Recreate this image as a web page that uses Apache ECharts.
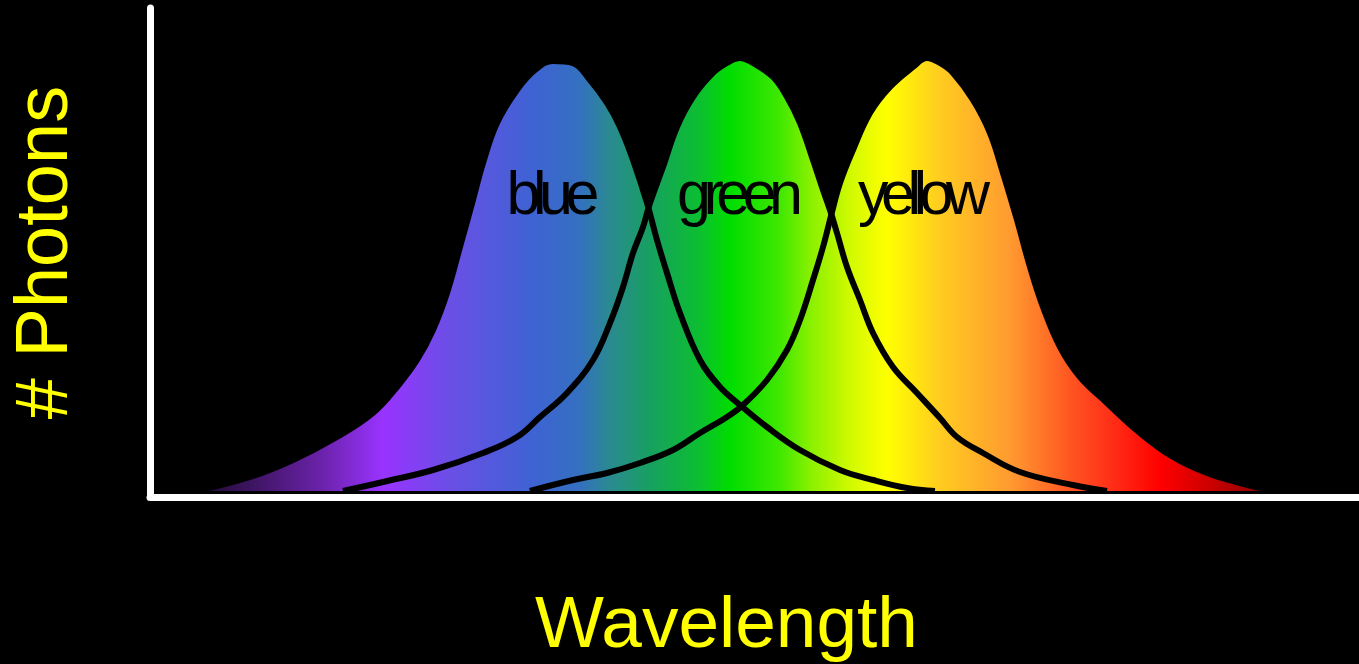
<!DOCTYPE html>
<html>
<head>
<meta charset="utf-8">
<title>Photons vs Wavelength</title>
<script src="https://cdn.jsdelivr.net/npm/echarts@6/dist/echarts.min.js"></script>
<style>
  html, body { margin: 0; padding: 0; background: #000; }
  #chart { width: 1359px; height: 664px; }
</style>
</head>
<body>
<div id="chart"></div>
<script>
// curve samples (x = wavelength position, y = photon count)
const blueX = [200, 250, 293, 337, 373, 397, 417, 433, 447, 460, 473, 483, 497, 517, 535, 553,
  573, 590, 607, 620, 633, 647, 657, 667, 680, 700, 720, 740, 767, 800, 840, 873, 907, 935];
const blueY = [1, 14, 31, 54, 78, 104, 131, 161, 198, 244, 291, 328, 368, 401, 421, 430,
  428, 411, 388, 364, 331, 288, 251, 218, 178, 131, 104, 86, 64, 41, 21, 11, 3, 0];

const greenX = [343, 383, 433, 483, 517, 540, 567, 593, 610, 623, 633, 643, 650, 663, 677, 693, 713, 727, 740,
  753, 773, 787, 800, 813, 823, 830, 837, 847, 860, 873, 893, 917, 940, 957, 983, 1020, 1073, 1107];
const greenY = [0, 9, 21, 38, 54, 74, 98, 131, 168, 204, 238, 264, 288, 324, 364, 394, 418, 428, 433,
  428, 414, 394, 368, 331, 301, 281, 258, 224, 191, 158, 124, 98, 73, 54, 38, 19, 6, 0];

const yellowX = [530, 573, 607, 640, 673, 700, 727, 743, 767, 787, 800, 813, 823, 832, 840, 853, 870, 890, 913, 927,
  940, 953, 973, 990, 1003, 1017, 1030, 1043, 1060, 1080, 1107, 1140, 1173, 1207, 1240, 1273];
const yellowY = [0, 11, 18, 28, 41, 58, 74, 86, 111, 141, 171, 211, 244, 279, 308, 341, 378, 404, 424, 433,
  428, 418, 391, 358, 318, 271, 224, 184, 144, 114, 88, 58, 34, 18, 8, 0];

const curveNames = ['blue', 'green', 'yellow'];
const labelX = [553, 740, 924];

// spectrum under the curves, by horizontal position
const spectrumX = [190, 250, 320, 383, 450, 530, 580, 610, 650, 700, 730, 780, 810, 850, 887, 940, 1010, 1075, 1110, 1160, 1210, 1280];
const spectrumColors = ['#1a0828', '#3c1460', '#6a22a8', '#9933ff', '#6a4fe6', '#3f62d4', '#3470c0', '#2a8a90',
  '#17a060', '#0cbf30', '#00dd00', '#40e800', '#88f000', '#d0fa00', '#ffff00', '#ffcc20', '#ff9a30',
  '#ff5020', '#ff3018', '#ff0000', '#cc0000', '#7a0000'];

const W = 1359;
const font = '"Liberation Sans", Arial, Helvetica, sans-serif';

const chart = echarts.init(document.getElementById('chart'));

const spectrum = {
  type: 'linear', x: 0, y: 0, x2: W, y2: 0, global: true,
  colorStops: spectrumX.map((x, i) => ({ offset: x / W, color: spectrumColors[i] }))
};

const curves = [
  blueX.map((x, i) => [x, blueY[i]]),
  greenX.map((x, i) => [x, greenY[i]]),
  yellowX.map((x, i) => [x, yellowY[i]])
];

const series = [];
curves.forEach((data, i) => {
  series.push({
    name: curveNames[i] + ' fill',
    type: 'line',
    data: data,
    smooth: 0.4,
    showSymbol: false,
    lineStyle: { width: 0 },
    areaStyle: { color: spectrum, opacity: 1 },
    z: 1
  });
});
curves.forEach((data, i) => {
  series.push({
    name: curveNames[i],
    type: 'line',
    data: data,
    smooth: 0.4,
    showSymbol: false,
    lineStyle: { color: '#000', width: 6 },
    z: 3
  });
});

// the curve labels are set tight, so place letter by letter
const measureCtx = document.createElement('canvas').getContext('2d');
function tightLabel(str, cx, y, size, spacing) {
  const f = size + 'px ' + font;
  measureCtx.font = f;
  const widths = str.split('').map(ch => measureCtx.measureText(ch).width);
  const total = widths.reduce((a, b) => a + b, 0) + spacing * (str.length - 1);
  let x = cx - total / 2;
  return str.split('').map((ch, i) => {
    const el = {
      type: 'text',
      x: x,
      y: y,
      z: 10,
      style: { text: ch, fill: '#000', font: f, textAlign: 'left', textVerticalAlign: 'middle' }
    };
    x += widths[i] + spacing;
    return el;
  });
}

const labels = [];
curveNames.forEach((name, i) => labels.push(...tightLabel(name, labelX[i], 197, 61, -7.5)));

chart.setOption({
  backgroundColor: '#000',
  animation: false,
  grid: { left: 150, right: 0, top: 8, bottom: 167, outerBoundsMode: 'none' },
  xAxis: {
    type: 'value',
    min: 150,
    max: W,
    name: 'Wavelength',
    nameLocation: 'middle',
    nameGap: 93,
    nameTextStyle: { color: '#ffff00', fontSize: 73, fontFamily: font, padding: [0, 56, 0, 0] },
    axisLine: { show: true, onZero: false, lineStyle: { color: '#fff', width: 7 } },
    axisTick: { show: false },
    axisLabel: { show: false },
    splitLine: { show: false }
  },
  yAxis: {
    type: 'value',
    min: -6,
    max: 483,
    name: '# Photons',
    nameLocation: 'middle',
    nameGap: 66,
    nameRotate: 90,
    nameTextStyle: { color: '#ffff00', fontSize: 74, fontFamily: font },
    axisLine: { show: true, onZero: false, lineStyle: { color: '#fff', width: 7 } },
    axisTick: { show: false },
    axisLabel: { show: false },
    splitLine: { show: false }
  },
  graphic: labels,
  series: series
});
</script>
</body>
</html>
